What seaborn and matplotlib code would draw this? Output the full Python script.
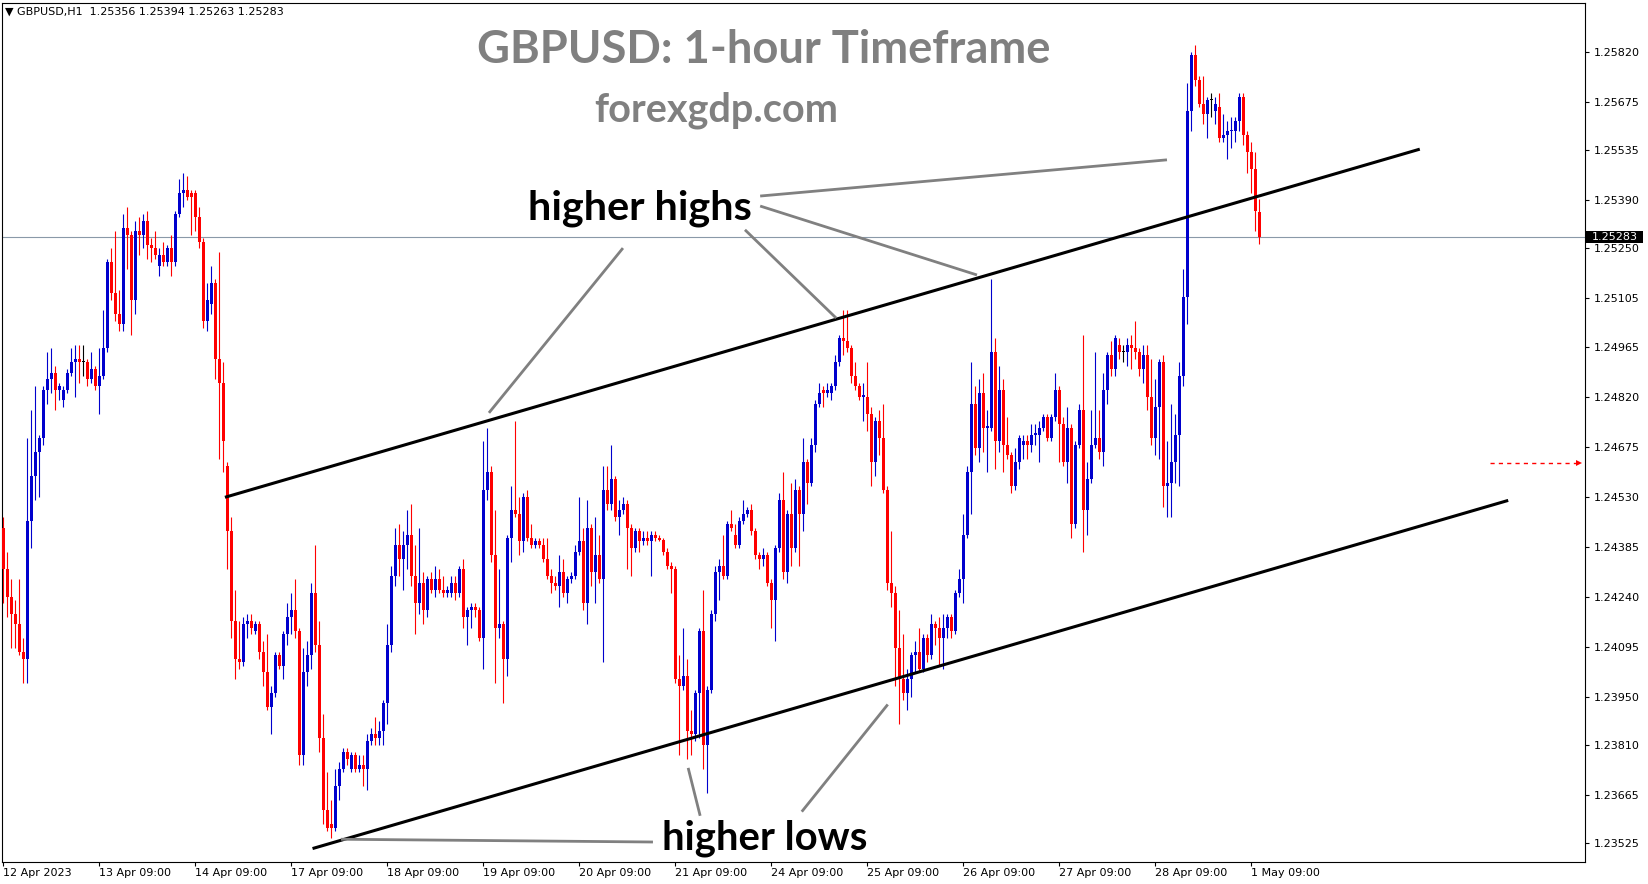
import numpy as np
import pandas as pd
import matplotlib
matplotlib.use("Agg")
import matplotlib.pyplot as plt
import matplotlib.transforms as mtransforms
from matplotlib.patches import Rectangle
import seaborn as sns

# hourly GBPUSD candles, 12 Apr 09:00 .. 1 May 11:00 (bar index = position)
opens = [
    1.2444, 1.2432, 1.2424, 1.2419, 1.2416, 1.2408, 1.2406, 1.2446, 1.2459, 1.2466,
    1.2470, 1.2484, 1.2487, 1.2489, 1.2484, 1.2481, 1.2484, 1.2489, 1.2492, 1.2493,
    1.2492, 1.2492, 1.2487, 1.2490, 1.2485, 1.2488, 1.2496, 1.2521, 1.2512, 1.2506,
    1.2503, 1.2531, 1.2529, 1.2510, 1.2530, 1.2529, 1.2533, 1.2526, 1.2525, 1.2520,
    1.2523, 1.2521, 1.2525, 1.2521, 1.2535, 1.2541, 1.2542, 1.2541, 1.2541, 1.2534,
    1.2527, 1.2504, 1.2509, 1.2515, 1.2493, 1.2486, 1.2462, 1.2443, 1.2417, 1.2406,
    1.2405, 1.2416, 1.2417, 1.2414, 1.2416, 1.2408, 1.2402, 1.2392, 1.2396, 1.2407,
    1.2404, 1.2413, 1.2418, 1.2420, 1.2414, 1.2378, 1.2402, 1.2407, 1.2425, 1.2410,
    1.2383, 1.2362, 1.2358, 1.2357, 1.2369, 1.2374, 1.2379, 1.2374, 1.2378, 1.2374,
    1.2375, 1.2374, 1.2382, 1.2384, 1.2383, 1.2385, 1.2393, 1.2410, 1.2430, 1.2439,
    1.2435, 1.2439, 1.2442, 1.2430, 1.2422, 1.2428, 1.2420, 1.2429, 1.2426, 1.2429,
    1.2426, 1.2425, 1.2425, 1.2428, 1.2425, 1.2432, 1.2418, 1.2420, 1.2421, 1.2420,
    1.2412, 1.2455, 1.2460, 1.2436, 1.2415, 1.2416, 1.2406, 1.2441, 1.2449, 1.2448,
    1.2440, 1.2453, 1.2441, 1.2439, 1.2440, 1.2439, 1.2435, 1.2430, 1.2428, 1.2427,
    1.2431, 1.2425, 1.2429, 1.2430, 1.2437, 1.2440, 1.2422, 1.2444, 1.2431, 1.2436,
    1.2429, 1.2455, 1.2451, 1.2458, 1.2447, 1.2449, 1.2451, 1.2444, 1.2438, 1.2443,
    1.2440, 1.2441, 1.2440, 1.2442, 1.2441, 1.24405, 1.2437, 1.2433, 1.2432, 1.2400,
    1.2398, 1.2401, 1.2385, 1.2384, 1.2396, 1.2414, 1.2381, 1.2397, 1.2419, 1.2431,
    1.2433, 1.2430, 1.2445, 1.2442, 1.2439, 1.2446, 1.2448, 1.2449, 1.2443, 1.2436,
    1.2435, 1.2436, 1.2428, 1.2423, 1.2438, 1.2452, 1.2431, 1.2448, 1.2438, 1.2455,
    1.2448, 1.2463, 1.2457, 1.2468, 1.2480, 1.2484, 1.2483, 1.2483, 1.2485, 1.2492,
    1.2499, 1.2498, 1.2496, 1.2488, 1.2485, 1.2482, 1.2482, 1.2477, 1.2463, 1.2475,
    1.2470, 1.2455, 1.2428, 1.2425, 1.2409, 1.2400, 1.2396, 1.2400, 1.2407, 1.2408,
    1.2403, 1.2412, 1.2407, 1.2416, 1.2415, 1.2412, 1.2415, 1.2418, 1.2414, 1.2425,
    1.2429, 1.2442, 1.2460, 1.2480, 1.2467, 1.2483, 1.2473, 1.2473, 1.2495, 1.2469,
    1.2484, 1.2468, 1.2465, 1.2456, 1.2463, 1.2468, 1.2469, 1.2468, 1.2471, 1.2471,
    1.2473, 1.2476, 1.2470, 1.2476, 1.2484, 1.2474, 1.2463, 1.2473, 1.2445, 1.2468,
    1.2478, 1.2449, 1.2458, 1.2468, 1.2470, 1.2466, 1.2484, 1.2494, 1.2490, 1.2497,
    1.2495, 1.2495, 1.2497, 1.2496, 1.2495, 1.2490, 1.2494, 1.2482, 1.2470, 1.2479,
    1.2492, 1.2456, 1.2457, 1.2463, 1.2471, 1.2488, 1.2511, 1.2565, 1.2581, 1.2574,
    1.2567, 1.2564, 1.2568, 1.2565, 1.2566, 1.2557, 1.2558, 1.2559, 1.2559, 1.2562,
    1.2569, 1.2558, 1.2553, 1.2548, 1.25356,
]
highs = [
    1.2447, 1.2437, 1.2429, 1.2423, 1.2429, 1.2412, 1.2470, 1.2478, 1.2485, 1.2471,
    1.2485, 1.2495, 1.2496, 1.2491, 1.2486, 1.2485, 1.2490, 1.2496, 1.2497, 1.2497,
    1.2497, 1.2493, 1.2495, 1.2491, 1.2496, 1.2507, 1.2522, 1.2525, 1.2530, 1.2513,
    1.2535, 1.2537, 1.2530, 1.2533, 1.2534, 1.2535, 1.2536, 1.2528, 1.2530, 1.2525,
    1.2527, 1.2526, 1.2529, 1.2536, 1.2545, 1.2547, 1.2546, 1.2542, 1.2542, 1.2537,
    1.2528, 1.2515, 1.2520, 1.2516, 1.2524, 1.2492, 1.2463, 1.2447, 1.2426, 1.2417,
    1.2418, 1.2419, 1.2419, 1.2417, 1.2417, 1.2411, 1.2413, 1.2398, 1.2408, 1.2408,
    1.2414, 1.2422, 1.2425, 1.2429, 1.2415, 1.2409, 1.2411, 1.2428, 1.2439, 1.2417,
    1.2390, 1.2373, 1.2365, 1.2374, 1.2376, 1.2380, 1.2380, 1.2379, 1.2379, 1.2378,
    1.2378, 1.2384, 1.2386, 1.2389, 1.2388, 1.2394, 1.2416, 1.2433, 1.2444, 1.2445,
    1.2443, 1.2449, 1.2451, 1.2439, 1.2444, 1.2431, 1.2430, 1.2431, 1.2433, 1.2432,
    1.2430, 1.2427, 1.2430, 1.2430, 1.2433, 1.2435, 1.2421, 1.2422, 1.2422, 1.2421,
    1.2469, 1.2473, 1.2462, 1.2449, 1.2432, 1.2417, 1.2442, 1.2456, 1.2475, 1.2453,
    1.2454, 1.2455, 1.2445, 1.2441, 1.2441, 1.2441, 1.2441, 1.2432, 1.2430, 1.2436,
    1.2435, 1.2430, 1.2431, 1.2439, 1.2453, 1.2444, 1.2452, 1.2445, 1.2447, 1.2442,
    1.2462, 1.2462, 1.2468, 1.2459, 1.2452, 1.2453, 1.2452, 1.2445, 1.2444, 1.2444,
    1.2443, 1.2443, 1.2443, 1.2443, 1.2442, 1.2441, 1.2438, 1.2434, 1.2433, 1.2407,
    1.2415, 1.2406, 1.2391, 1.2397, 1.2415, 1.2426, 1.2398, 1.2420, 1.2433, 1.2435,
    1.2442, 1.2446, 1.2449, 1.2445, 1.2447, 1.2452, 1.2450, 1.2451, 1.2444, 1.2437,
    1.2438, 1.2437, 1.2429, 1.2439, 1.2454, 1.2460, 1.2449, 1.2457, 1.2458, 1.2456,
    1.2470, 1.2464, 1.2470, 1.2481, 1.2486, 1.2485, 1.2486, 1.2486, 1.2494, 1.2500,
    1.2507, 1.2507, 1.2497, 1.2492, 1.2486, 1.2486, 1.2492, 1.2479, 1.2476, 1.2478,
    1.2480, 1.2456, 1.2443, 1.2427, 1.2420, 1.2413, 1.2403, 1.2408, 1.2411, 1.2415,
    1.2413, 1.2413, 1.2419, 1.2417, 1.2418, 1.2419, 1.2419, 1.2419, 1.2426, 1.2432,
    1.2448, 1.2462, 1.2492, 1.2485, 1.2487, 1.2489, 1.2478, 1.2516, 1.2499, 1.2491,
    1.2487, 1.2476, 1.2466, 1.2467, 1.2471, 1.2471, 1.2471, 1.2474, 1.2474, 1.2475,
    1.2477, 1.2477, 1.2477, 1.2489, 1.2485, 1.2476, 1.2479, 1.2474, 1.2469, 1.2480,
    1.2500, 1.2463, 1.2478, 1.2495, 1.2478, 1.2489, 1.2495, 1.2498, 1.2500, 1.2499,
    1.2497, 1.2499, 1.2500, 1.2504, 1.2496, 1.2497, 1.2497, 1.2493, 1.2487, 1.2493,
    1.2494, 1.2469, 1.2480, 1.2477, 1.2492, 1.2519, 1.2573, 1.2582, 1.2584, 1.2575,
    1.2575, 1.2569, 1.2570, 1.2569, 1.2570, 1.2564, 1.2562, 1.2563, 1.2563, 1.2570,
    1.2570, 1.2559, 1.2556, 1.2553, 1.25394,
]
lows = [
    1.2422, 1.2418, 1.2409, 1.2409, 1.2407, 1.2399, 1.2399, 1.2438, 1.2452, 1.2453,
    1.2468, 1.2480, 1.2483, 1.2478, 1.2481, 1.2479, 1.2483, 1.2488, 1.2482, 1.2486,
    1.2488, 1.2485, 1.2486, 1.2484, 1.2477, 1.2487, 1.2495, 1.2510, 1.2504, 1.2501,
    1.2501, 1.2519, 1.2500, 1.2506, 1.2523, 1.2525, 1.2522, 1.2521, 1.2522, 1.2517,
    1.2520, 1.2520, 1.2517, 1.2520, 1.2534, 1.2537, 1.2539, 1.2529, 1.2530, 1.2525,
    1.2502, 1.2501, 1.2506, 1.2487, 1.2464, 1.2460, 1.2432, 1.2412, 1.2400, 1.2403,
    1.2404, 1.2412, 1.2413, 1.2413, 1.2406, 1.2398, 1.2391, 1.2384, 1.2395, 1.2403,
    1.2400, 1.2410, 1.2413, 1.2412, 1.2375, 1.2375, 1.2398, 1.2403, 1.2408, 1.2379,
    1.2358, 1.2356, 1.2354, 1.2356, 1.2365, 1.2373, 1.2375, 1.2373, 1.2373, 1.2373,
    1.2369, 1.2368, 1.2381, 1.2381, 1.2381, 1.2381, 1.2387, 1.2408, 1.2427, 1.2430,
    1.2426, 1.2432, 1.2427, 1.2413, 1.2419, 1.2416, 1.2418, 1.2425, 1.2424, 1.2425,
    1.2424, 1.2424, 1.2424, 1.2423, 1.2424, 1.2415, 1.2410, 1.2415, 1.2418, 1.2411,
    1.2403, 1.2452, 1.2434, 1.2399, 1.2412, 1.2393, 1.2401, 1.2434, 1.2447, 1.2436,
    1.2437, 1.2440, 1.2438, 1.2438, 1.2438, 1.2434, 1.2429, 1.2425, 1.2426, 1.2421,
    1.2424, 1.2422, 1.2428, 1.2429, 1.2436, 1.2420, 1.2416, 1.2427, 1.2422, 1.2428,
    1.2405, 1.2449, 1.2449, 1.2446, 1.2442, 1.2448, 1.2432, 1.2430, 1.2437, 1.2437,
    1.2439, 1.2439, 1.2430, 1.2440, 1.2440, 1.2436, 1.2432, 1.2425, 1.2399, 1.2378,
    1.2397, 1.2377, 1.2378, 1.2382, 1.2383, 1.2374, 1.2367, 1.2396, 1.2417, 1.2423,
    1.2429, 1.2429, 1.2443, 1.2438, 1.2438, 1.2445, 1.2447, 1.2442, 1.2435, 1.2432,
    1.2433, 1.2427, 1.2415, 1.2411, 1.2437, 1.2429, 1.2428, 1.2433, 1.2437, 1.2433,
    1.2443, 1.2451, 1.2456, 1.2466, 1.2479, 1.2479, 1.2482, 1.2481, 1.2484, 1.2491,
    1.2494, 1.2495, 1.2486, 1.2484, 1.2481, 1.2475, 1.2472, 1.2456, 1.2459, 1.2465,
    1.2454, 1.2426, 1.2421, 1.2398, 1.2387, 1.2394, 1.2391, 1.2395, 1.2402, 1.2402,
    1.2402, 1.2405, 1.2406, 1.2410, 1.2404, 1.2403, 1.2412, 1.2412, 1.2413, 1.2424,
    1.2422, 1.2441, 1.2448, 1.2465, 1.2463, 1.2466, 1.2460, 1.2472, 1.2461, 1.2466,
    1.2460, 1.2464, 1.2454, 1.2455, 1.2461, 1.2464, 1.2464, 1.2466, 1.2468, 1.2463,
    1.2472, 1.2469, 1.2469, 1.2475, 1.2463, 1.2462, 1.2457, 1.2441, 1.2444, 1.2467,
    1.2437, 1.2442, 1.2457, 1.2467, 1.2464, 1.2462, 1.2480, 1.2488, 1.2488, 1.2493,
    1.2492, 1.2491, 1.2490, 1.2493, 1.2488, 1.2486, 1.2478, 1.2468, 1.2465, 1.2464,
    1.2450, 1.2447, 1.2447, 1.2457, 1.2456, 1.2485, 1.2503, 1.2559, 1.2572, 1.2566,
    1.2561, 1.2557, 1.2563, 1.2561, 1.2556, 1.2556, 1.2551, 1.2554, 1.2556, 1.2559,
    1.2555, 1.2547, 1.2541, 1.2530, 1.25263,
]
closes = [
    1.2432, 1.2424, 1.2419, 1.2416, 1.2408, 1.2406, 1.2446, 1.2459, 1.2466, 1.2470,
    1.2484, 1.2487, 1.2489, 1.2484, 1.2485, 1.2484, 1.2489, 1.2492, 1.2493, 1.2492,
    1.2492, 1.2487, 1.2490, 1.2485, 1.2488, 1.2496, 1.2521, 1.2512, 1.2506, 1.2503,
    1.2531, 1.2529, 1.2510, 1.2530, 1.2529, 1.2533, 1.2526, 1.2525, 1.2523, 1.2523,
    1.2521, 1.2525, 1.2521, 1.2535, 1.2541, 1.2542, 1.2540, 1.2540, 1.2534, 1.2527,
    1.2504, 1.2510, 1.2515, 1.2493, 1.2486, 1.2469, 1.2443, 1.2417, 1.2406, 1.2405,
    1.2416, 1.2417, 1.2415, 1.2416, 1.2408, 1.2402, 1.2392, 1.2396, 1.2407, 1.2404,
    1.2413, 1.2418, 1.2420, 1.2414, 1.2378, 1.2402, 1.2407, 1.2425, 1.2410, 1.2383,
    1.2362, 1.2357, 1.2357, 1.2369, 1.2374, 1.2379, 1.2377, 1.2378, 1.2374, 1.2375,
    1.2374, 1.2382, 1.2384, 1.2383, 1.2385, 1.2393, 1.2410, 1.2430, 1.2439, 1.2435,
    1.2439, 1.2442, 1.2430, 1.2422, 1.2428, 1.2420, 1.2429, 1.2426, 1.2429, 1.2426,
    1.2425, 1.2426, 1.2428, 1.2425, 1.2432, 1.2418, 1.2420, 1.2421, 1.2420, 1.2412,
    1.2455, 1.2460, 1.2436, 1.2415, 1.2416, 1.2406, 1.2441, 1.2449, 1.2448, 1.2440,
    1.2453, 1.2441, 1.2439, 1.2440, 1.2439, 1.2435, 1.2430, 1.2428, 1.2427, 1.2431,
    1.2425, 1.2429, 1.2430, 1.2437, 1.2440, 1.2422, 1.2444, 1.2431, 1.2436, 1.2429,
    1.2455, 1.2451, 1.2458, 1.2447, 1.2449, 1.2451, 1.2444, 1.2438, 1.2443, 1.2440,
    1.2441, 1.2440, 1.2442, 1.2441, 1.24405, 1.2437, 1.2433, 1.2432, 1.2400, 1.2398,
    1.2401, 1.2385, 1.2384, 1.2396, 1.2414, 1.2381, 1.2397, 1.2419, 1.2431, 1.2433,
    1.2430, 1.2445, 1.2444, 1.2439, 1.2446, 1.2448, 1.2449, 1.2443, 1.2436, 1.2435,
    1.2436, 1.2428, 1.2423, 1.2438, 1.2452, 1.2431, 1.2448, 1.2438, 1.2455, 1.2448,
    1.2463, 1.2457, 1.2468, 1.2480, 1.2483, 1.2483, 1.2484, 1.2485, 1.2492, 1.2499,
    1.2498, 1.2496, 1.2488, 1.2485, 1.2482, 1.24825, 1.2477, 1.2463, 1.2475, 1.2470,
    1.2455, 1.2428, 1.2425, 1.2409, 1.2400, 1.2396, 1.2400, 1.2407, 1.2408, 1.2403,
    1.2412, 1.2407, 1.2416, 1.2415, 1.2412, 1.2415, 1.2418, 1.2414, 1.2425, 1.2429,
    1.2442, 1.2460, 1.2480, 1.2467, 1.2483, 1.2473, 1.24735, 1.2495, 1.2469, 1.2484,
    1.2468, 1.2465, 1.2456, 1.2463, 1.2470, 1.2469, 1.2468, 1.2471, 1.24715, 1.2473,
    1.2476, 1.2470, 1.2476, 1.2484, 1.2474, 1.2463, 1.2473, 1.2445, 1.2468, 1.2478,
    1.2449, 1.2458, 1.2468, 1.2470, 1.2466, 1.2484, 1.2494, 1.2490, 1.2499, 1.2495,
    1.2495, 1.2497, 1.2496, 1.2495, 1.2490, 1.2494, 1.2482, 1.2470, 1.2479, 1.2492,
    1.2456, 1.2457, 1.2463, 1.2471, 1.2488, 1.2511, 1.2565, 1.2581, 1.2574, 1.2567,
    1.2564, 1.2568, 1.2568, 1.2567, 1.2557, 1.2558, 1.2559, 1.25595, 1.2562, 1.2569,
    1.2558, 1.2553, 1.2548, 1.2536, 1.25283,
]

# axis annotations as the terminal shows them
date_ticks = [0, 24, 48, 72, 96, 120, 144, 168, 192, 216, 240, 264, 288, 312]
date_labels = ["12 Apr 2023", "13 Apr 09:00", "14 Apr 09:00", "17 Apr 09:00",
               "18 Apr 09:00", "19 Apr 09:00", "20 Apr 09:00", "21 Apr 09:00",
               "24 Apr 09:00", "25 Apr 09:00", "26 Apr 09:00", "27 Apr 09:00",
               "28 Apr 09:00", "1 May 09:00"]
price_ticks = [1.25820, 1.25675, 1.25535, 1.25390, 1.25250, 1.25105, 1.24965,
               1.24820, 1.24675, 1.24530, 1.24385, 1.24240, 1.24095, 1.23950,
               1.23810, 1.23665, 1.23525]
last_price = 1.25283
alert_price = 1.24628

# channel + pointer lines (bar index, price)
upper_x, upper_y = [55.4, 354.1], [1.24528, 1.25538]
lower_x, lower_y = [77.3, 376.2], [1.23509, 1.24519]
pointers = [
    ([189.2, 290.9], [1.25402, 1.25507]),
    ([189.2, 243.4], [1.25373, 1.25173]),
    ([185.4, 208.2], [1.25304, 1.25048]),
    ([154.9, 121.4], [1.25251, 1.24773]),
    ([84.4, 162.4], [1.23536, 1.23528]),
    ([171.2, 174.2], [1.23743, 1.23604]),
    ([221.1, 199.6], [1.23927, 1.23616]),
]

df = pd.DataFrame({"open": opens, "high": highs, "low": lows, "close": closes})
df["bar"] = np.arange(len(df))
df["kind"] = np.where(df["close"] > df["open"], "up",
                      np.where(df["close"] < df["open"], "down", "doji"))
colours = {"up": "#0000cd", "down": "#ff0000", "doji": "#000000"}
df["colour"] = df["kind"].map(colours)

sns.set_theme(style="white")
plt.rcParams["font.family"] = ["DejaVu Sans"]

fig = plt.figure(figsize=(16.49, 8.84), dpi=100)
ax = fig.add_axes([2 / 1649, 22 / 884, 1583 / 1649, 859 / 884])

# current bid line
ax.axhline(last_price, color="#8a99a8", lw=0.8, zorder=1)

# candles
ax.vlines(df["bar"], df["low"], df["high"], colors=df["colour"], lw=0.8, zorder=2)
body_lo = df[["open", "close"]].min(axis=1)
body_h = (df["close"] - df["open"]).abs().clip(lower=0.000035)
ax.bar(df["bar"], body_h, bottom=body_lo, width=0.75, color=df["colour"],
       linewidth=0, zorder=3)

# channel lines
ax.plot(upper_x, upper_y, color="black", lw=2.2, zorder=4, solid_capstyle="butt")
ax.plot(lower_x, lower_y, color="black", lw=2.2, zorder=4, solid_capstyle="butt")
for px, py in pointers:
    ax.plot(px, py, color="#808080", lw=2.0, zorder=4, solid_capstyle="butt")

# alert arrow at the right
ax.plot([371.7, 393.3], [alert_price, alert_price], color="red", lw=1,
        ls=(0, (3, 3)), zorder=4)
ax.plot([394.0], [alert_price], marker=">", color="red", ms=5, mew=0, zorder=4)

ax.set_xlim(-0.33, 395.4)
ax.set_ylim(1.23470, 1.25962)

for s in ax.spines.values():
    s.set_visible(True)
    s.set_color("black")
    s.set_linewidth(0.8)

ax.yaxis.tick_right()
ax.set_yticks(price_ticks)
ax.set_yticklabels([f"{p:.5f}" for p in price_ticks])
ax.tick_params(axis="y", right=True, left=False, direction="out", length=3,
               width=0.8, pad=3, labelsize=8, colors="black")
ax.set_xticks(date_ticks)
ax.set_xticklabels(date_labels)
ax.tick_params(axis="x", bottom=True, direction="out", length=3, width=0.8,
               pad=1.5, labelsize=8, colors="black")
for lbl in ax.get_xticklabels():
    lbl.set_ha("left")
ax.grid(False)

# last price tag
tag_tr = mtransforms.blended_transform_factory(ax.transAxes, ax.transData)
ax.add_patch(Rectangle((1.0006, last_price - 0.000185), 0.036, 0.00037,
                       transform=tag_tr, facecolor="black", edgecolor="none",
                       clip_on=False, zorder=6))
ax.text(1.0044, last_price, f"{last_price:.5f}", transform=tag_tr, fontsize=8,
        color="white", va="center", ha="left", zorder=7)

ax.text(0.002, 0.9895, "\u25bc GBPUSD,H1  1.25356 1.25394 1.25263 1.25283",
        transform=ax.transAxes, fontsize=8, va="center", ha="left", color="black")

big = ["Lato", "DejaVu Sans"]
title = ax.text(0.4812, 0.9307, "GBPUSD: 1-hour Timeframe", transform=ax.transAxes,
                fontsize=34, fontweight="bold", color="#808080", ha="center",
                va="baseline", family=big)
site = ax.text(0.4514, 0.8626, "forexgdp.com", transform=ax.transAxes,
               fontsize=26, fontweight="bold", color="#808080", ha="center",
               va="baseline", family=big)
hh = ax.text(0.4032, 0.7477, "higher highs", transform=ax.transAxes,
             fontsize=26, fontweight="bold", color="black", ha="center",
             va="baseline", family=big, zorder=5)
hl = ax.text(0.4820, 0.0142, "higher lows", transform=ax.transAxes,
             fontsize=26, fontweight="bold", color="black", ha="center",
             va="baseline", family=big, zorder=5)

# fit label sizes to their widths in the original
fig.canvas.draw()
rend = fig.canvas.get_renderer()
for t, w in [(title, 576), (site, 244), (hh, 224), (hl, 205)]:
    bw = t.get_window_extent(rend).width
    t.set_fontsize(t.get_fontsize() * w / bw)

fig.savefig("out.png", dpi=100, facecolor="white")
